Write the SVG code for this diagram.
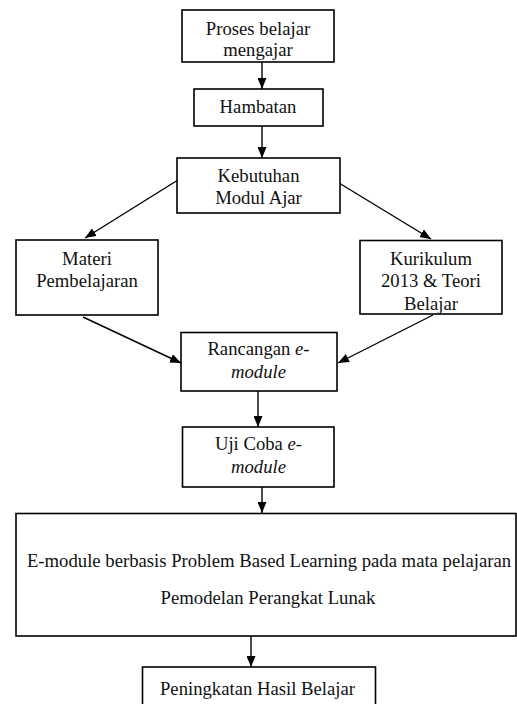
<svg xmlns="http://www.w3.org/2000/svg" width="517" height="704" viewBox="0 0 517 704">
<defs>
<style>
.box{fill:#fff;stroke:#000;stroke-width:1.6}
.t{font-family:"Liberation Serif","Times New Roman",serif;font-size:18.7px;fill:#111;text-anchor:middle}
.i{font-style:italic}
.c{stroke:#000;stroke-width:1.4;fill:none;marker-end:url(#ah)}
</style>
<marker id="ah" markerUnits="userSpaceOnUse" markerWidth="11" markerHeight="9" refX="11" refY="4.5" orient="auto">
<path d="M0,0 L11,4.5 L0,9 z" fill="#000"/>
</marker>
</defs>
<rect width="517" height="704" fill="#fff"/>
<g id="connectors">
<line class="c" x1="262" y1="62" x2="262" y2="89"/>
<line class="c" x1="262" y1="126" x2="262" y2="158"/>
<line class="c" x1="178" y1="180" x2="85" y2="238"/>
<line class="c" x1="339" y1="183" x2="431" y2="239"/>
<line class="c" x1="83" y1="317" x2="181" y2="363"/>
<line class="c" x1="433" y1="315" x2="338" y2="363"/>
<line class="c" x1="258" y1="391" x2="258" y2="427"/>
<line class="c" x1="262" y1="487" x2="262" y2="513"/>
<line class="c" x1="251" y1="636" x2="251" y2="667"/>
</g>
<g id="n1">
<rect class="box" x="182" y="10" width="152" height="52"/>
<text class="t" x="258" y="35">Proses belajar</text>
<text class="t" x="258" y="56">mengajar</text>
</g>
<g id="n2">
<rect class="box" x="194" y="89" width="129" height="37"/>
<text class="t" x="258" y="113">Hambatan</text>
</g>
<g id="n3">
<rect class="box" x="177" y="158" width="163" height="55"/>
<text class="t" x="258.5" y="182">Kebutuhan</text>
<text class="t" x="258.5" y="204">Modul Ajar</text>
</g>
<g id="n4">
<rect class="box" x="16" y="240" width="142" height="75"/>
<text class="t" x="87" y="265">Materi</text>
<text class="t" x="87" y="287">Pembelajaran</text>
</g>
<g id="n5">
<rect class="box" x="360" y="240.5" width="142" height="73.5"/>
<text class="t" x="431" y="265">Kurikulum</text>
<text class="t" x="431" y="287">2013 &amp; Teori</text>
<text class="t" x="431" y="310">Belajar</text>
</g>
<g id="n6">
<rect class="box" x="181" y="332.5" width="156" height="58.5"/>
<text class="t" x="258.5" y="355">Rancangan <tspan class="i">e-</tspan></text>
<text class="t i" x="258.5" y="378">module</text>
</g>
<g id="n7">
<rect class="box" x="182.5" y="427" width="151.5" height="60"/>
<text class="t" x="258.5" y="450">Uji Coba <tspan class="i">e-</tspan></text>
<text class="t i" x="258.5" y="473">module</text>
</g>
<g id="n8">
<rect class="box" x="16" y="513.5" width="500" height="122.5"/>
<text class="t" x="269" y="567">E-module berbasis Problem Based Learning pada mata pelajaran</text>
<text class="t" x="268" y="604">Pemodelan Perangkat Lunak</text>
</g>
<g id="n9">
<rect class="box" x="142.5" y="667" width="233" height="45"/>
<text class="t" x="257.5" y="695">Peningkatan Hasil Belajar</text>
</g>
</svg>
